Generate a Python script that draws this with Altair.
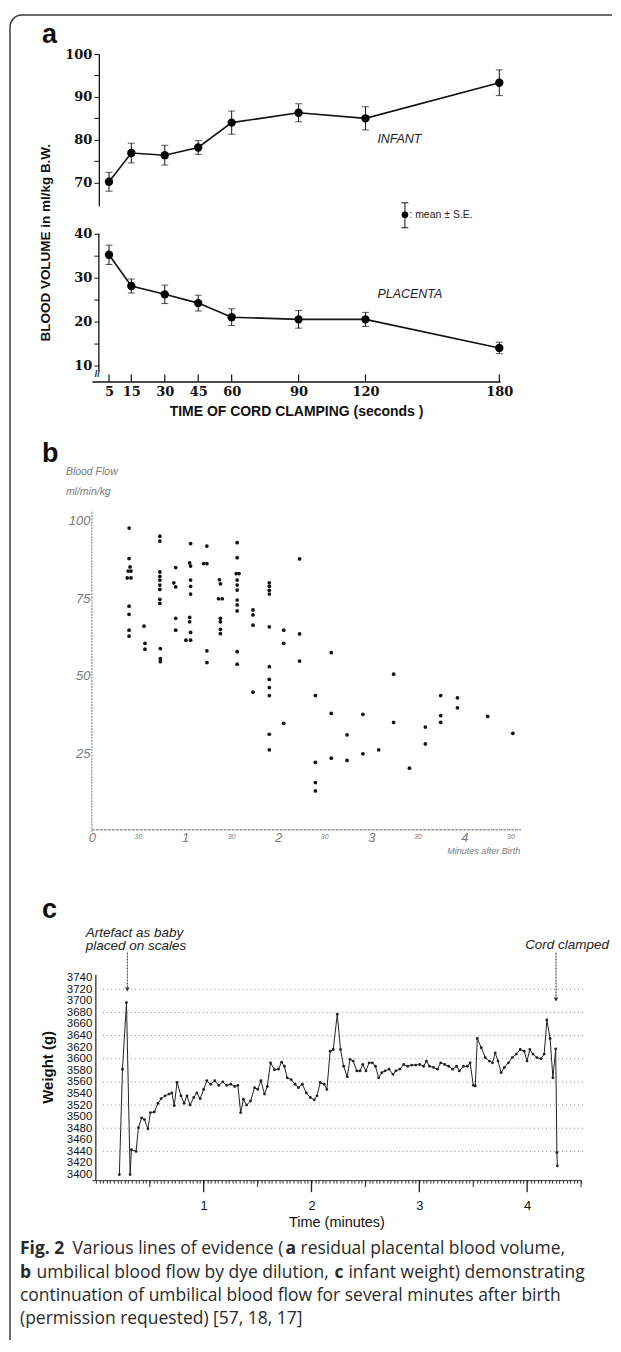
import altair as alt
import pandas as pd

# ===== Panel a: blood volume vs time of cord clamping =====
clamp_time_s = [5, 15, 30, 45, 60, 90, 120, 180]
infant_mean = [70.2, 76.9, 76.4, 78.2, 84.0, 86.3, 85.0, 93.3]
infant_se = [2.2, 2.3, 2.3, 1.6, 2.7, 2.1, 2.7, 3.0]
placenta_mean = [35.2, 28.1, 26.2, 24.2, 21.0, 20.5, 20.5, 14.0]
placenta_se = [2.2, 1.6, 2.1, 1.8, 1.9, 2.0, 1.6, 1.3]
a_upper_ticks = [70, 75, 80, 85, 90, 95, 100]
a_lower_ticks = [10, 15, 20, 25, 30, 35, 40]

# ===== Panel b: umbilical blood flow (dye dilution) =====
flow_minutes = [
    0.40, 0.40, 0.41, 0.39, 0.42, 0.38, 0.42, 0.40, 0.40, 0.40, 0.40,
    0.56, 0.57, 0.57,
    0.73, 0.73, 0.73, 0.73, 0.73, 0.73, 0.73, 0.73, 0.73, 0.735, 0.735, 0.735,
    0.90, 0.88, 0.90, 0.90, 0.90,
    1.06, 1.05, 1.06, 1.06, 1.06, 1.06, 1.05, 1.05, 1.06, 1.01, 1.06,
    1.235, 1.20, 1.235, 1.235, 1.235,
    1.37, 1.38, 1.36, 1.40, 1.38, 1.38, 1.38, 1.38,
    1.56, 1.56, 1.55, 1.58, 1.56, 1.56, 1.56, 1.56, 1.56, 1.56, 1.56, 1.56,
    1.73, 1.73, 1.73, 1.73,
    1.905, 1.905, 1.905, 1.905, 1.905, 1.905, 1.905, 1.905, 1.905, 1.905, 1.905,
    2.06, 2.06, 2.06,
    2.23, 2.23, 2.23,
    2.40, 2.40, 2.40, 2.40,
    2.57, 2.57, 2.57,
    2.74, 2.74,
    2.91, 2.91,
    3.08,
    3.24, 3.24,
    3.41,
    3.58, 3.58,
    3.745, 3.745, 3.745,
    3.925, 3.925,
    4.25,
    4.52,
]
flow_value = [
    97.5, 87.7, 85.0, 83.7, 83.7, 81.5, 81.5, 72.4, 69.8, 64.7, 62.8,
    66.0, 60.5, 58.6,
    94.9, 93.3, 83.4, 82.0, 80.8, 79.2, 77.8, 74.6, 73.3, 58.8, 55.6, 54.6,
    84.8, 79.9, 78.6, 68.5, 64.7,
    92.5, 86.3, 85.3, 80.8, 78.8, 76.3, 68.8, 67.4, 64.0, 61.5, 61.5,
    91.7, 86.1, 86.1, 58.1, 54.3,
    80.9, 79.6, 74.8, 74.8, 68.5, 67.4, 65.0, 63.6,
    92.8, 88.0, 82.9, 82.9, 80.8, 79.2, 77.6, 74.4, 72.8, 70.9, 57.8, 53.8,
    71.2, 69.6, 66.3, 44.8,
    79.9, 78.8, 77.5, 76.3, 65.8, 53.0, 48.9, 46.3, 43.7, 31.3, 26.3,
    64.7, 60.5, 34.8,
    87.6, 63.5, 54.8,
    43.7, 22.3, 15.8, 13.1,
    57.5, 38.0, 23.6,
    31.1, 22.9,
    37.7, 25.0,
    26.3,
    50.6, 35.1,
    20.4,
    33.6, 28.2,
    43.7, 37.3, 35.1,
    43.0, 39.8,
    37.0,
    31.6,
]
b_y_labels = [25, 50, 75, 100]
b_x_labels = [0, 1, 2, 3, 4]
b_half_labels = [0.5, 1.5, 2.5, 3.5, 4.5]

# ===== Panel c: infant weight on scales =====
weight_minutes = [
    0.218, 0.247, 0.284, 0.318, 0.330, 0.373, 0.395, 0.424, 0.450, 0.483,
    0.506, 0.542, 0.576, 0.605, 0.642, 0.679, 0.705, 0.727, 0.753, 0.790,
    0.819, 0.845, 0.874, 0.908, 0.937, 0.967, 1.000, 1.029, 1.066, 1.103,
    1.140, 1.177, 1.214, 1.251, 1.288, 1.317, 1.343, 1.369, 1.398, 1.435,
    1.472, 1.502, 1.531, 1.564, 1.590, 1.620, 1.657, 1.693, 1.723, 1.749,
    1.775, 1.811, 1.848, 1.878, 1.915, 1.952, 1.989, 2.025, 2.051, 2.081,
    2.118, 2.143, 2.173, 2.202, 2.239, 2.269, 2.298, 2.332, 2.357, 2.387,
    2.420, 2.450, 2.475, 2.505, 2.534, 2.564, 2.593, 2.623, 2.652, 2.682,
    2.719, 2.756, 2.782, 2.819, 2.855, 2.892, 2.929, 2.966, 3.003, 3.040,
    3.066, 3.095, 3.132, 3.169, 3.198, 3.235, 3.272, 3.309, 3.346, 3.372,
    3.409, 3.446, 3.471, 3.501, 3.519, 3.538, 3.575, 3.612, 3.649, 3.678,
    3.704, 3.730, 3.759, 3.789, 3.826, 3.862, 3.899, 3.936, 3.973, 3.999,
    4.025, 4.054, 4.091, 4.128, 4.158, 4.183, 4.213, 4.239, 4.265, 4.276,
    4.280,
]
weight_g = [
    3400, 3582, 3697, 3400, 3443, 3440, 3481, 3498, 3495, 3479,
    3507, 3508, 3523, 3531, 3536, 3539, 3541, 3519, 3559, 3536,
    3523, 3536, 3520, 3533, 3541, 3531, 3547, 3562, 3556, 3562,
    3554, 3560, 3554, 3556, 3552, 3554, 3507, 3530, 3520, 3527,
    3550, 3547, 3562, 3539, 3552, 3593, 3581, 3582, 3594, 3587,
    3567, 3564, 3556, 3550, 3556, 3541, 3533, 3529, 3536, 3559,
    3556, 3547, 3613, 3616, 3677, 3616, 3587, 3569, 3599, 3596,
    3579, 3579, 3590, 3579, 3593, 3593, 3587, 3567, 3576, 3579,
    3582, 3573, 3579, 3582, 3590, 3587, 3589, 3589, 3590, 3587,
    3596, 3587, 3585, 3582, 3593, 3590, 3587, 3582, 3587, 3579,
    3587, 3587, 3593, 3554, 3553, 3635, 3619, 3602, 3596, 3593,
    3610, 3596, 3576, 3585, 3593, 3602, 3608, 3616, 3613, 3596,
    3616, 3608, 3602, 3600, 3608, 3667, 3635, 3567, 3617, 3438,
    3415,
]
c_y_labels = [3400, 3420, 3440, 3460, 3480, 3500, 3520, 3540, 3560,
              3580, 3600, 3620, 3640, 3660, 3680, 3700, 3720, 3740]
c_grid = [3440, 3480, 3520, 3560, 3600, 3640, 3680, 3720]
c_x_labels = [1, 2, 3, 4]
c_half_ticks = [0.5, 1.5, 2.5, 3.5, 4.5]
c_minor_ticks = [round(i / 30, 4) for i in range(136)]

# ---------------------------------------------------------------------------
SANS = "Liberation Sans, Arial, sans-serif"
SERIF = "DejaVu Serif, serif"
CAP = "Open Sans, sans-serif"
INK = "#111111"
one = pd.DataFrame({"k": [0]})


def txt(text, x, y, size, weight="normal", style="normal", font=SANS,
        color=INK, align="left", baseline="middle", angle=0):
    return alt.Chart(one).mark_text(
        text=text, fontSize=size, fontWeight=weight, fontStyle=style,
        font=font, color=color, align=align, baseline=baseline, angle=angle
    ).encode(x=alt.value(x), y=alt.value(y))


def vrule(x, y1, y2, color=INK, width=1.0):
    return alt.Chart(one).mark_rule(color=color, strokeWidth=width).encode(
        x=alt.value(x), y=alt.value(y1), y2=alt.value(y2))


def hrule(x1, x2, y, color=INK, width=1.0):
    return alt.Chart(one).mark_rule(color=color, strokeWidth=width).encode(
        x=alt.value(x1), x2=alt.value(x2), y=alt.value(y))


# ----------------------------- Panel a --------------------------------------
W_A, H_A1, H_A2 = 409, 152, 176
xa = alt.Scale(domain=[-2.69, 180.4], nice=False, zero=False)
ya1 = alt.Scale(domain=[64.6, 100], nice=False, zero=False)
ya2 = alt.Scale(domain=[6.36, 46.36], nice=False, zero=False)

dfA = pd.DataFrame({"t": clamp_time_s,
                    "inf": infant_mean,
                    "inf_lo": [m - s for m, s in zip(infant_mean, infant_se)],
                    "inf_hi": [m + s for m, s in zip(infant_mean, infant_se)],
                    "pla": placenta_mean,
                    "pla_lo": [m - s for m, s in zip(placenta_mean, placenta_se)],
                    "pla_hi": [m + s for m, s in zip(placenta_mean, placenta_se)]})


def a_yaxis(vals, domain=True):
    return alt.Axis(values=vals, tickSize=5, tickColor=INK, domain=domain,
                    domainColor=INK, domainWidth=1.3, labelFont=SERIF,
                    labelFontWeight="bold", labelFontSize=13, labelColor=INK,
                    labelPadding=2, title=None, grid=False, labelOverlap=False,
                    offset=-7, format="d",
                    labelExpr="datum.value % 10 === 0 ? datum.label : ''")


def series(df, key, yscale, xaxis, yaxis):
    base = alt.Chart(df)
    X = alt.X("t:Q", scale=xa, axis=xaxis)
    line = base.mark_line(color=INK, strokeWidth=1.6).encode(
        x=X, y=alt.Y(f"{key}:Q", scale=yscale, axis=yaxis))
    err = base.mark_rule(color=INK, strokeWidth=1).encode(
        x=X, y=alt.Y(f"{key}_lo:Q", scale=yscale, axis=yaxis), y2=f"{key}_hi:Q")
    cap1 = base.mark_tick(orient="horizontal", size=7, thickness=1, color=INK).encode(
        x=X, y=alt.Y(f"{key}_lo:Q", scale=yscale, axis=yaxis))
    cap2 = base.mark_tick(orient="horizontal", size=7, thickness=1, color=INK).encode(
        x=X, y=alt.Y(f"{key}_hi:Q", scale=yscale, axis=yaxis))
    pts = base.mark_circle(size=70, color="#000", opacity=1).encode(
        x=X, y=alt.Y(f"{key}:Q", scale=yscale, axis=yaxis))
    return [line, err, cap1, cap2, pts]


# frame of the figure (left side, top side, rounded corner)
frame_left = vrule(-82, -27, 1288, color="#3c3c3c", width=1.5)
frame_top = hrule(-70, 521, -39, color="#3c3c3c", width=1.5)
frame_corner = alt.Chart(one).mark_arc(
    radius=12.75, radius2=11.25, theta=4.7124, theta2=6.2832, color="#3c3c3c"
).encode(x=alt.value(-70), y=alt.value(-27))

ya1_axis = a_yaxis(a_upper_ticks)
p1 = alt.layer(
    frame_left, frame_top, frame_corner,
    *series(dfA, "inf", ya1, None, ya1_axis),
    txt("a", -50, -11, 27, weight="bold", baseline="alphabetic"),
    txt("BLOOD VOLUME in ml/kg B.W.", -46, 189, 13.5, weight="bold", align="center", angle=270),
    txt("INFANT", 286, 85, 12.5, style="italic", color="#222"),
    # legend  (mean ± S.E.)
    vrule(313.6, 149, 174, width=1),
    hrule(310, 317, 149), hrule(310, 317, 174),
    alt.Chart(one).mark_circle(size=45, color="#000", opacity=1).encode(
        x=alt.value(313.6), y=alt.value(161)),
    txt(": mean ± S.E.", 318, 161, 10.5, color="#222"),
).properties(width=W_A, height=H_A1)

ya2_axis = a_yaxis(a_lower_ticks, domain=False)
xa_axis = alt.Axis(
    values=clamp_time_s, ticks=False, domainColor=INK, domainWidth=1.5,
    labelFont=SERIF, labelFontWeight="bold", labelFontSize=13, labelColor=INK,
    labelPadding=4, labelFlush=False, labelOverlap=False, grid=False, format="d",
    title="TIME OF CORD CLAMPING  (seconds )", titleFont=SANS,
    titleFontSize=14, titleFontWeight="bold", titleColor=INK, titlePadding=6)
a_xticks = alt.Chart(pd.DataFrame({"t": clamp_time_s})).mark_rule(
    color=INK, strokeWidth=1.2).encode(
    x=alt.X("t:Q", scale=xa, axis=xa_axis), y=alt.value(H_A2 - 7), y2=alt.value(H_A2))
a2_axis_line = alt.Chart(one).mark_rule(color=INK, strokeWidth=1.3).encode(
    x=alt.value(7), y=alt.datum(40, scale=ya2, axis=ya2_axis), y2=alt.datum(8.8))
p2 = alt.layer(
    a2_axis_line, a_xticks, *series(dfA, "pla", ya2, xa_axis, ya2_axis),
    txt("PLACENTA", 286, 88, 12.5, style="italic", color="#222"),
    txt("//", 3, 169, 9, weight="bold"),
).properties(width=W_A, height=H_A2)

# ----------------------------- Panel b --------------------------------------
W_B, H_B = 430, 451
xb = alt.Scale(domain=[0, 4.609], nice=False, zero=False)
yb = alt.Scale(domain=[0, 144.55], nice=False, zero=False)
GREY = "#7a7a7a"
dfB = pd.DataFrame({"t": flow_minutes, "v": flow_value})
xb_axis = alt.Axis(values=b_x_labels, domain=False, ticks=False, labelFont=SANS,
                   labelFontStyle="italic", labelFontSize=13, labelColor=GREY,
                   labelPadding=0, labelFlush=False, grid=False, title=None, format="d")
yb_axis = alt.Axis(values=b_y_labels, domain=False, ticks=False, labelFont=SANS,
                   labelFontStyle="italic", labelFontSize=13, labelColor=GREY,
                   labelPadding=2, labelFlush=False, grid=False, title=None, format="d")

b_pts = alt.Chart(dfB).mark_circle(size=14, color="#111", opacity=1).encode(
    x=alt.X("t:Q", scale=xb, axis=xb_axis),
    y=alt.Y("v:Q", scale=yb, axis=yb_axis))
b_yaxis = alt.Chart(one).mark_rule(color="#9a9a9a", strokeWidth=1.3, strokeDash=[2, 1]).encode(
    x=alt.value(0), y=alt.datum(0, scale=yb, axis=yb_axis), y2=alt.datum(103))
b_xaxis = alt.Chart(one).mark_rule(color="#9a9a9a", strokeWidth=1.3, strokeDash=[3, 1]).encode(
    x=alt.value(0), x2=alt.value(W_B), y=alt.value(H_B - 2))
b_half = alt.Chart(pd.DataFrame({"t": b_half_labels})).mark_text(
    text="30", fontSize=7, fontStyle="italic", color=GREY, font=SANS, baseline="top").encode(
    x=alt.X("t:Q", scale=xb, axis=xb_axis), y=alt.value(H_B + 1))
p3 = alt.layer(
    b_yaxis, b_xaxis, b_pts, b_half,
    txt("b", -50, 81, 27, weight="bold", baseline="alphabetic"),
    txt("Blood Flow", -26, 91, 10.5, style="italic", color=GREY),
    txt("ml/min/kg", -26, 111, 10.5, style="italic", color=GREY),
    txt("Minutes after Birth", 429, 470, 9, style="italic", color=GREY, align="right"),
).properties(width=W_B, height=H_B)

# ----------------------------- Panel c --------------------------------------
W_C, H_C = 490, 349
xc = alt.Scale(domain=[-0.037, 4.5], nice=False, zero=False)
yc = alt.Scale(domain=[3390.3, 3992], nice=False, zero=False)
dfC = pd.DataFrame({"t": weight_minutes, "g": weight_g})
xc_axis = alt.Axis(
    values=c_minor_ticks, tickSize=3, tickColor="#333", domainColor="#333",
    labelExpr="datum.value >= 0.99 && abs(datum.value - round(datum.value)) < 0.001 ? '' + round(datum.value) : ''",
    labelOverlap=False, labelFlush=False, labelPadding=16, labelFont=SANS,
    labelFontSize=13, labelColor=INK, grid=False,
    title="Time (minutes)", titleFont=SANS, titleFontSize=14.5,
    titleFontWeight="normal", titleColor=INK, titlePadding=3)
yc_axis = alt.Axis(
    values=c_y_labels, domain=False, ticks=False, offset=-4, labelPadding=4,
    labelFont=SANS, labelFontSize=11.5, labelColor=INK, labelOverlap=False,
    labelFlush=False, grid=False, title=None, format="d")

c_grid_layer = alt.Chart(pd.DataFrame({"g": c_grid})).mark_rule(
    color="#8a8a8a", strokeWidth=1, strokeDash=[1, 3]).encode(
    y=alt.Y("g:Q", scale=yc, axis=yc_axis), x=alt.value(11), x2=alt.value(494))
c_line = alt.Chart(dfC).mark_line(
    color="#222", strokeWidth=1,
    point=alt.OverlayMarkDef(filled=True, size=8, color="#222")).encode(
    x=alt.X("t:Q", scale=xc, axis=xc_axis),
    y=alt.Y("g:Q", scale=yc, axis=yc_axis))
c_yaxis = alt.Chart(one).mark_rule(color="#222", strokeWidth=1.2).encode(
    x=alt.datum(0, scale=xc, axis=xc_axis),
    y=alt.datum(3390.3, scale=yc, axis=yc_axis), y2=alt.datum(3745))
c_half = alt.Chart(pd.DataFrame({"t": c_half_ticks})).mark_rule(color="#333", strokeWidth=1).encode(
    x=alt.X("t:Q", scale=xc, axis=xc_axis), y=alt.value(H_C), y2=alt.value(H_C + 7))
c_major = alt.Chart(pd.DataFrame({"t": c_x_labels})).mark_rule(color="#222", strokeWidth=1.3).encode(
    x=alt.X("t:Q", scale=xc, axis=xc_axis), y=alt.value(H_C), y2=alt.value(H_C + 12))


def arrow(t, y1, y2):
    shaft = alt.Chart(one).mark_rule(color="#333", strokeWidth=1, strokeDash=[2, 1]).encode(
        x=alt.datum(t, scale=xc, axis=xc_axis), y=alt.value(y1), y2=alt.value(y2))
    head = alt.Chart(one).mark_point(shape="triangle-down", filled=True, size=22,
                                     color="#333", opacity=1).encode(
        x=alt.datum(t, scale=xc, axis=xc_axis), y=alt.value(y2 + 2))
    return [shaft, head]


p4 = alt.layer(
    c_grid_layer, c_yaxis, c_half, c_major, c_line,
    *arrow(0.292, 121, 156), *arrow(4.268, 121, 166),
    txt("c", -50, 86, 27, weight="bold", baseline="alphabetic"),
    txt("Weight (g)", -44, 236, 15, weight="bold", align="center", angle=270),
    txt("Artefact as baby", -6, 101, 13.5, style="italic", color="#222"),
    txt("placed on scales", -6, 114, 13.5, style="italic", color="#222"),
    txt("Cord clamped", 518, 113, 13.5, style="italic", color="#222", align="right"),
).properties(width=W_C, height=H_C)

# ----------------------------- Caption --------------------------------------
CC = "#2a2a2a"
FS = 17.5
p5 = alt.layer(
    txt("Fig. 2", -72, 69, FS, weight="bold", font=CAP, color=CC),
    txt("Various lines of evidence (", -19.5, 69, FS, font=CAP, color=CC),
    txt("a", 194, 69, FS, weight="bold", font=CAP, color=CC),
    txt("residual placental blood volume,", 209, 69, FS, font=CAP, color=CC),
    txt("b", -72, 92.5, FS, weight="bold", font=CAP, color=CC),
    txt("umbilical blood flow by dye dilution,", -55.5, 92.5, FS, font=CAP, color=CC),
    txt("c", 243, 92.5, FS, weight="bold", font=CAP, color=CC),
    txt("infant weight) demonstrating", 257, 92.5, FS, font=CAP, color=CC),
    txt("continuation of umbilical blood flow for several minutes after birth",
        -72, 116, FS, font=CAP, color=CC),
    txt("(permission requested) [57, 18, 17]", -72, 139.5, FS, font=CAP, color=CC),
).properties(width=W_C, height=158)

chart = alt.vconcat(p1, p2, p3, p4, p5, spacing=0, bounds="flush").properties(
    padding={"left": 1, "top": 5, "right": 0, "bottom": 0}
).configure_view(strokeOpacity=0).configure_axis(grid=False)

chart.save("out.html", embed_options={"renderer": "svg", "actions": False})
